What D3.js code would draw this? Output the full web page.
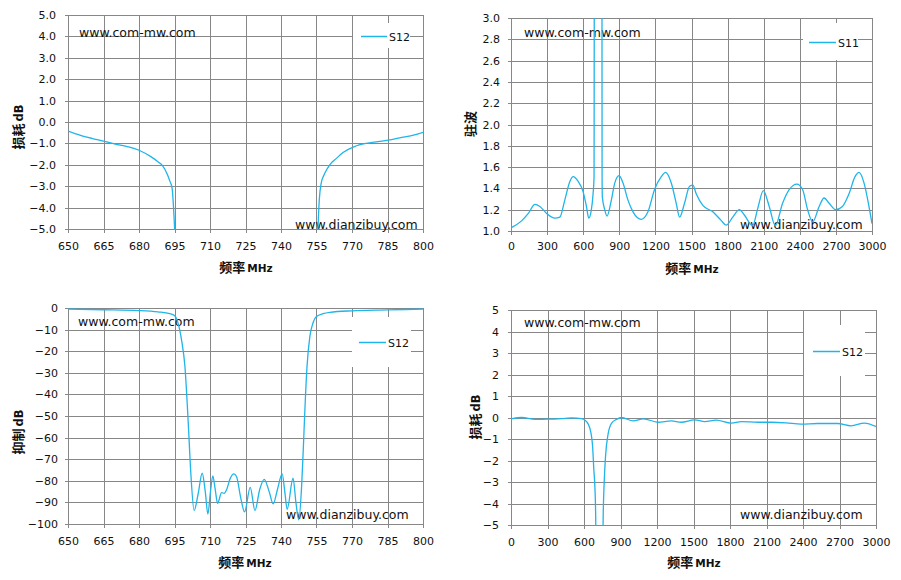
<!DOCTYPE html>
<html>
<head>
<meta charset="utf-8">
<script src="https://cdn.jsdelivr.net/npm/d3@7"></script>
<style>
  body { margin: 0; background: #fff; }
  svg { display: block; }
</style>
</head>
<body>
<script>
// ---- data ----
// top-left: S12 loss, 650-800 MHz (null = below the plot, gap)
const lossNarrowFreq = [650, 655, 660, 665, 670, 675, 680, 685, 688, 690, 692, 693, 694, 694.6, 695.2, 725,
  755.5, 756.2, 756.9, 758.5, 760.6, 763.4, 766.2, 771, 776, 781, 786, 791, 796, 800];
const lossNarrowDb = [-0.42, -0.61, -0.76, -0.89, -1.03, -1.15, -1.32, -1.62, -1.86, -2.05, -2.45, -2.75, -3.1, -4.0, -5.3, null,
  -5.3, -3.6, -2.9, -2.4, -2.0, -1.7, -1.43, -1.15, -1.0, -0.92, -0.84, -0.72, -0.61, -0.48];

// top-right: S11 VSWR, 0-3000 MHz
const vswrFreq = [0, 88, 144, 199, 240, 296, 365, 406, 447, 489, 517, 558, 599, 627, 646, 668, 682, 690, 696, 753, 757, 759,
  779, 798, 834, 862, 898, 931, 972, 1014, 1083, 1138, 1193, 1249, 1285, 1332, 1373, 1401, 1442, 1484, 1511, 1539,
  1594, 1677, 1746, 1788, 1843, 1898, 1939, 2008, 2050, 2097, 2146, 2196, 2257, 2313, 2376, 2423, 2465, 2507,
  2561, 2602, 2644, 2699, 2754, 2809, 2859, 2892, 2934, 2975, 3000];
const vswrVal = [1.03, 1.095, 1.165, 1.25, 1.23, 1.165, 1.12, 1.13, 1.29, 1.465, 1.51, 1.465, 1.37, 1.23, 1.12, 1.2, 1.35, 1.5, 8, 8, 1.5, 1.32,
  1.2, 1.14, 1.29, 1.45, 1.52, 1.45, 1.29, 1.18, 1.11, 1.18, 1.39, 1.51, 1.55, 1.45, 1.26, 1.13, 1.26, 1.42, 1.43, 1.35,
  1.24, 1.18, 1.10, 1.055, 1.13, 1.2, 1.15, 1.05, 1.21, 1.38, 1.23, 1.05, 1.26, 1.39, 1.44, 1.39, 1.2, 1.085,
  1.23, 1.31, 1.26, 1.2, 1.23, 1.35, 1.51, 1.55, 1.45, 1.23, 1.07];

// bottom-left: S12 rejection, 650-800 MHz
const rejFreq = [650, 665, 680, 688, 693, 695, 696.5, 698, 699.4, 700.8, 701.9, 703.3, 705, 706.7, 708, 709.1, 710.2, 711.2,
  712.2, 713.2, 714.9, 716, 717, 718.5, 720.1, 721.2, 723, 724.6, 727, 729, 731, 732.9, 735, 736.7, 738.5, 740.5,
  741.6, 742.6, 745.1, 746.3, 747.5, 748.7, 749.4, 750.1, 751, 752.2, 753.3, 755, 757.8, 760.6, 770, 785, 800];
const rejDb = [-0.5, -0.8, -1.2, -1.8, -2.6, -3.5, -7, -15, -27, -53, -76.5, -93.8, -86, -76.5, -85, -95.4, -85, -77.7,
  -84, -90.4, -85.5, -85.8, -84.2, -79, -76.8, -78, -88, -94.4, -83, -93.8, -84, -79.3, -85, -90.7, -84, -76.8,
  -85, -93.2, -78.8, -90, -98.1, -82.7, -65.7, -47, -27, -13.1, -7.7, -3.9, -2.6, -2.0, -1.3, -0.9, -0.5];

// bottom-right: S12 loss, 0-3000 MHz
const lossWideFreq = [0, 88, 197, 306, 416, 498, 580, 621, 648, 670, 681, 690, 696, 700, 752, 758, 766, 777, 799, 826, 867, 908,
  1004, 1089, 1208, 1318, 1400, 1509, 1592, 1687, 1810, 1892, 2029, 2138, 2261, 2384, 2521, 2685, 2795, 2904, 3000];
const lossWideDb = [-0.06, 0, -0.09, -0.08, -0.05, -0.02, -0.05, -0.19, -0.5, -1.3, -2.44, -3.3, -4.6, -7, -7, -4.5, -3.0, -1.8, -0.74, -0.27, -0.09, 0,
  -0.16, -0.06, -0.22, -0.16, -0.22, -0.11, -0.19, -0.12, -0.26, -0.19, -0.22, -0.22, -0.25, -0.31, -0.28, -0.28, -0.39, -0.26, -0.42];

// tick values
const ticksNarrowX = d3.range(650, 801, 15);
const ticksWideX = d3.range(0, 3001, 300);
const ticksLossY = d3.range(-5, 5.01, 1);
const ticksVswrY = d3.range(1, 3.01, 0.2);
const ticksRejY = d3.range(-100, 0.01, 10);

const LINE = '#1fb4ea';
const GRID = '#878787';
const FONT = 'DejaVu Sans, Verdana, sans-serif';
const CJK = '"Noto Sans CJK SC", sans-serif';

const svg = d3.select('body').append('svg').attr('width', 901).attr('height', 580);

function drawChart(c) {
  const x = d3.scaleLinear().domain(c.xDomain).range([c.left, c.right]);
  const y = d3.scaleLinear().domain(c.yDomain).range([c.bottom, c.top]);
  const g = svg.append('g');

  // grid
  g.selectAll('.vg').data(c.xTicks).join('line')
    .attr('x1', d => Math.round(x(d)) + 0.5).attr('x2', d => Math.round(x(d)) + 0.5)
    .attr('y1', c.top).attr('y2', c.bottom + 4)
    .attr('stroke', GRID).attr('stroke-width', 1);
  g.selectAll('.hg').data(c.yTicks).join('line')
    .attr('x1', c.left - 3).attr('x2', c.right)
    .attr('y1', d => Math.round(y(d)) + 0.5).attr('y2', d => Math.round(y(d)) + 0.5)
    .attr('stroke', GRID).attr('stroke-width', 1);

  // tick labels
  const xAxis = g.append('g').attr('transform', `translate(0,${c.bottom})`)
    .call(d3.axisBottom(x).tickValues(c.xTicks).tickSize(0).tickPadding(c.xPad).tickFormat(d3.format('d')));
  const yAxis = g.append('g').attr('transform', `translate(${c.left},0)`)
    .call(d3.axisLeft(y).tickValues(c.yTicks).tickSize(0).tickPadding(c.yPad).tickFormat(d3.format(c.yFmt)));
  [xAxis, yAxis].forEach(a => {
    a.select('.domain').remove();
    a.attr('font-family', FONT).attr('font-size', 11);
    a.selectAll('text').attr('fill', '#111');
  });

  // watermarks
  g.append('text').attr('x', c.wm1[0]).attr('y', c.wm1[1])
    .attr('font-family', FONT).attr('font-size', 12.5).attr('fill', '#111').text('www.com-mw.com');
  g.append('text').attr('x', c.wm2[0]).attr('y', c.wm2[1])
    .attr('font-family', FONT).attr('font-size', 12.5).attr('fill', '#111').text('www.dianzibuy.com');

  // series
  const clipId = 'clip' + c.id;
  svg.append('clipPath').attr('id', clipId).append('rect')
    .attr('x', c.left).attr('y', c.top).attr('width', c.right - c.left).attr('height', c.bottom - c.top + 1);
  const pts = c.xs.map((f, i) => [f, c.ys[i]]);
  const line = d3.line()
    .defined(d => d[1] !== null)
    .x(d => x(d[0])).y(d => y(d[1]))
    .curve(d3.curveMonotoneX);
  g.append('path').attr('d', line(pts)).attr('clip-path', `url(#${clipId})`)
    .attr('fill', 'none').attr('stroke', LINE).attr('stroke-width', 1.3);

  // legend
  const L = c.legend;
  g.append('rect').attr('x', L.x).attr('y', L.y).attr('width', L.w).attr('height', L.h).attr('fill', '#fff');
  g.append('line').attr('x1', L.lx1).attr('x2', L.lx2).attr('y1', L.ly).attr('y2', L.ly)
    .attr('stroke', LINE).attr('stroke-width', 1.5);
  g.append('text').attr('x', L.lx2 + 2).attr('y', L.ly + 4)
    .attr('font-family', FONT).attr('font-size', 11).attr('fill', '#111').text(c.name);

  // axis titles
  const xt = g.append('text').attr('x', c.xTitle[0]).attr('y', c.xTitle[1])
    .attr('text-anchor', 'middle').attr('font-weight', 'bold').attr('fill', '#111');
  xt.append('tspan').attr('font-family', CJK).attr('font-size', 13).text('频率');
  xt.append('tspan').attr('font-family', FONT).attr('font-size', 10.5).attr('dx', 2).text('MHz');

  const yt = g.append('text')
    .attr('transform', `translate(${c.yTitle[0]},${c.yTitle[1]}) rotate(-90)`)
    .attr('text-anchor', 'middle').attr('font-weight', 'bold').attr('fill', '#111');
  yt.append('tspan').attr('font-family', CJK).attr('font-size', 13).text(c.yLabel);
  if (c.yUnit) yt.append('tspan').attr('font-family', FONT).attr('font-size', 11.5).attr('dx', 2).text(c.yUnit);
}

drawChart({
  id: 'A', name: 'S12', xs: lossNarrowFreq, ys: lossNarrowDb,
  left: 68, right: 423, top: 15, bottom: 229,
  xDomain: [650, 800], yDomain: [-5, 5], xTicks: ticksNarrowX, yTicks: ticksLossY, yFmt: '.1f',
  xPad: 13, yPad: 12,
  wm1: [79, 37], wm2: [295, 229],
  legend: { x: 353, y: 23, w: 57, h: 25, lx1: 361, lx2: 387, ly: 36.5 },
  xTitle: [246, 272], yTitle: [23, 127], yLabel: '损耗', yUnit: 'dB'
});

drawChart({
  id: 'B', name: 'S11', xs: vswrFreq, ys: vswrVal,
  left: 511, right: 872, top: 18, bottom: 231,
  xDomain: [0, 3000], yDomain: [1, 3], xTicks: ticksWideX, yTicks: ticksVswrY, yFmt: '.1f',
  xPad: 11, yPad: 11,
  wm1: [524, 37], wm2: [740, 229],
  legend: { x: 803, y: 23, w: 55, h: 37, lx1: 809, lx2: 836, ly: 42.5 },
  xTitle: [692, 273], yTitle: [475, 124], yLabel: '驻波', yUnit: null
});

drawChart({
  id: 'C', name: 'S12', xs: rejFreq, ys: rejDb,
  left: 68, right: 423, top: 308, bottom: 524,
  xDomain: [650, 800], yDomain: [-100, 0], xTicks: ticksNarrowX, yTicks: ticksRejY, yFmt: 'd',
  xPad: 13, yPad: 10,
  wm1: [78, 326], wm2: [286, 519],
  legend: { x: 352, y: 317, w: 59, h: 50, lx1: 359, lx2: 386, ly: 342.5 },
  xTitle: [245, 567], yTitle: [23, 432], yLabel: '抑制', yUnit: 'dB'
});

drawChart({
  id: 'D', name: 'S12', xs: lossWideFreq, ys: lossWideDb,
  left: 511, right: 876, top: 310, bottom: 525,
  xDomain: [0, 3000], yDomain: [-5, 5], xTicks: ticksWideX, yTicks: ticksLossY, yFmt: 'd',
  xPad: 13, yPad: 12,
  wm1: [524, 327], wm2: [740, 519],
  legend: { x: 804, y: 325, w: 61, h: 51, lx1: 813, lx2: 840, ly: 351.5 },
  xTitle: [694, 567], yTitle: [480, 417], yLabel: '损耗', yUnit: 'dB'
});
</script>
</body>
</html>
